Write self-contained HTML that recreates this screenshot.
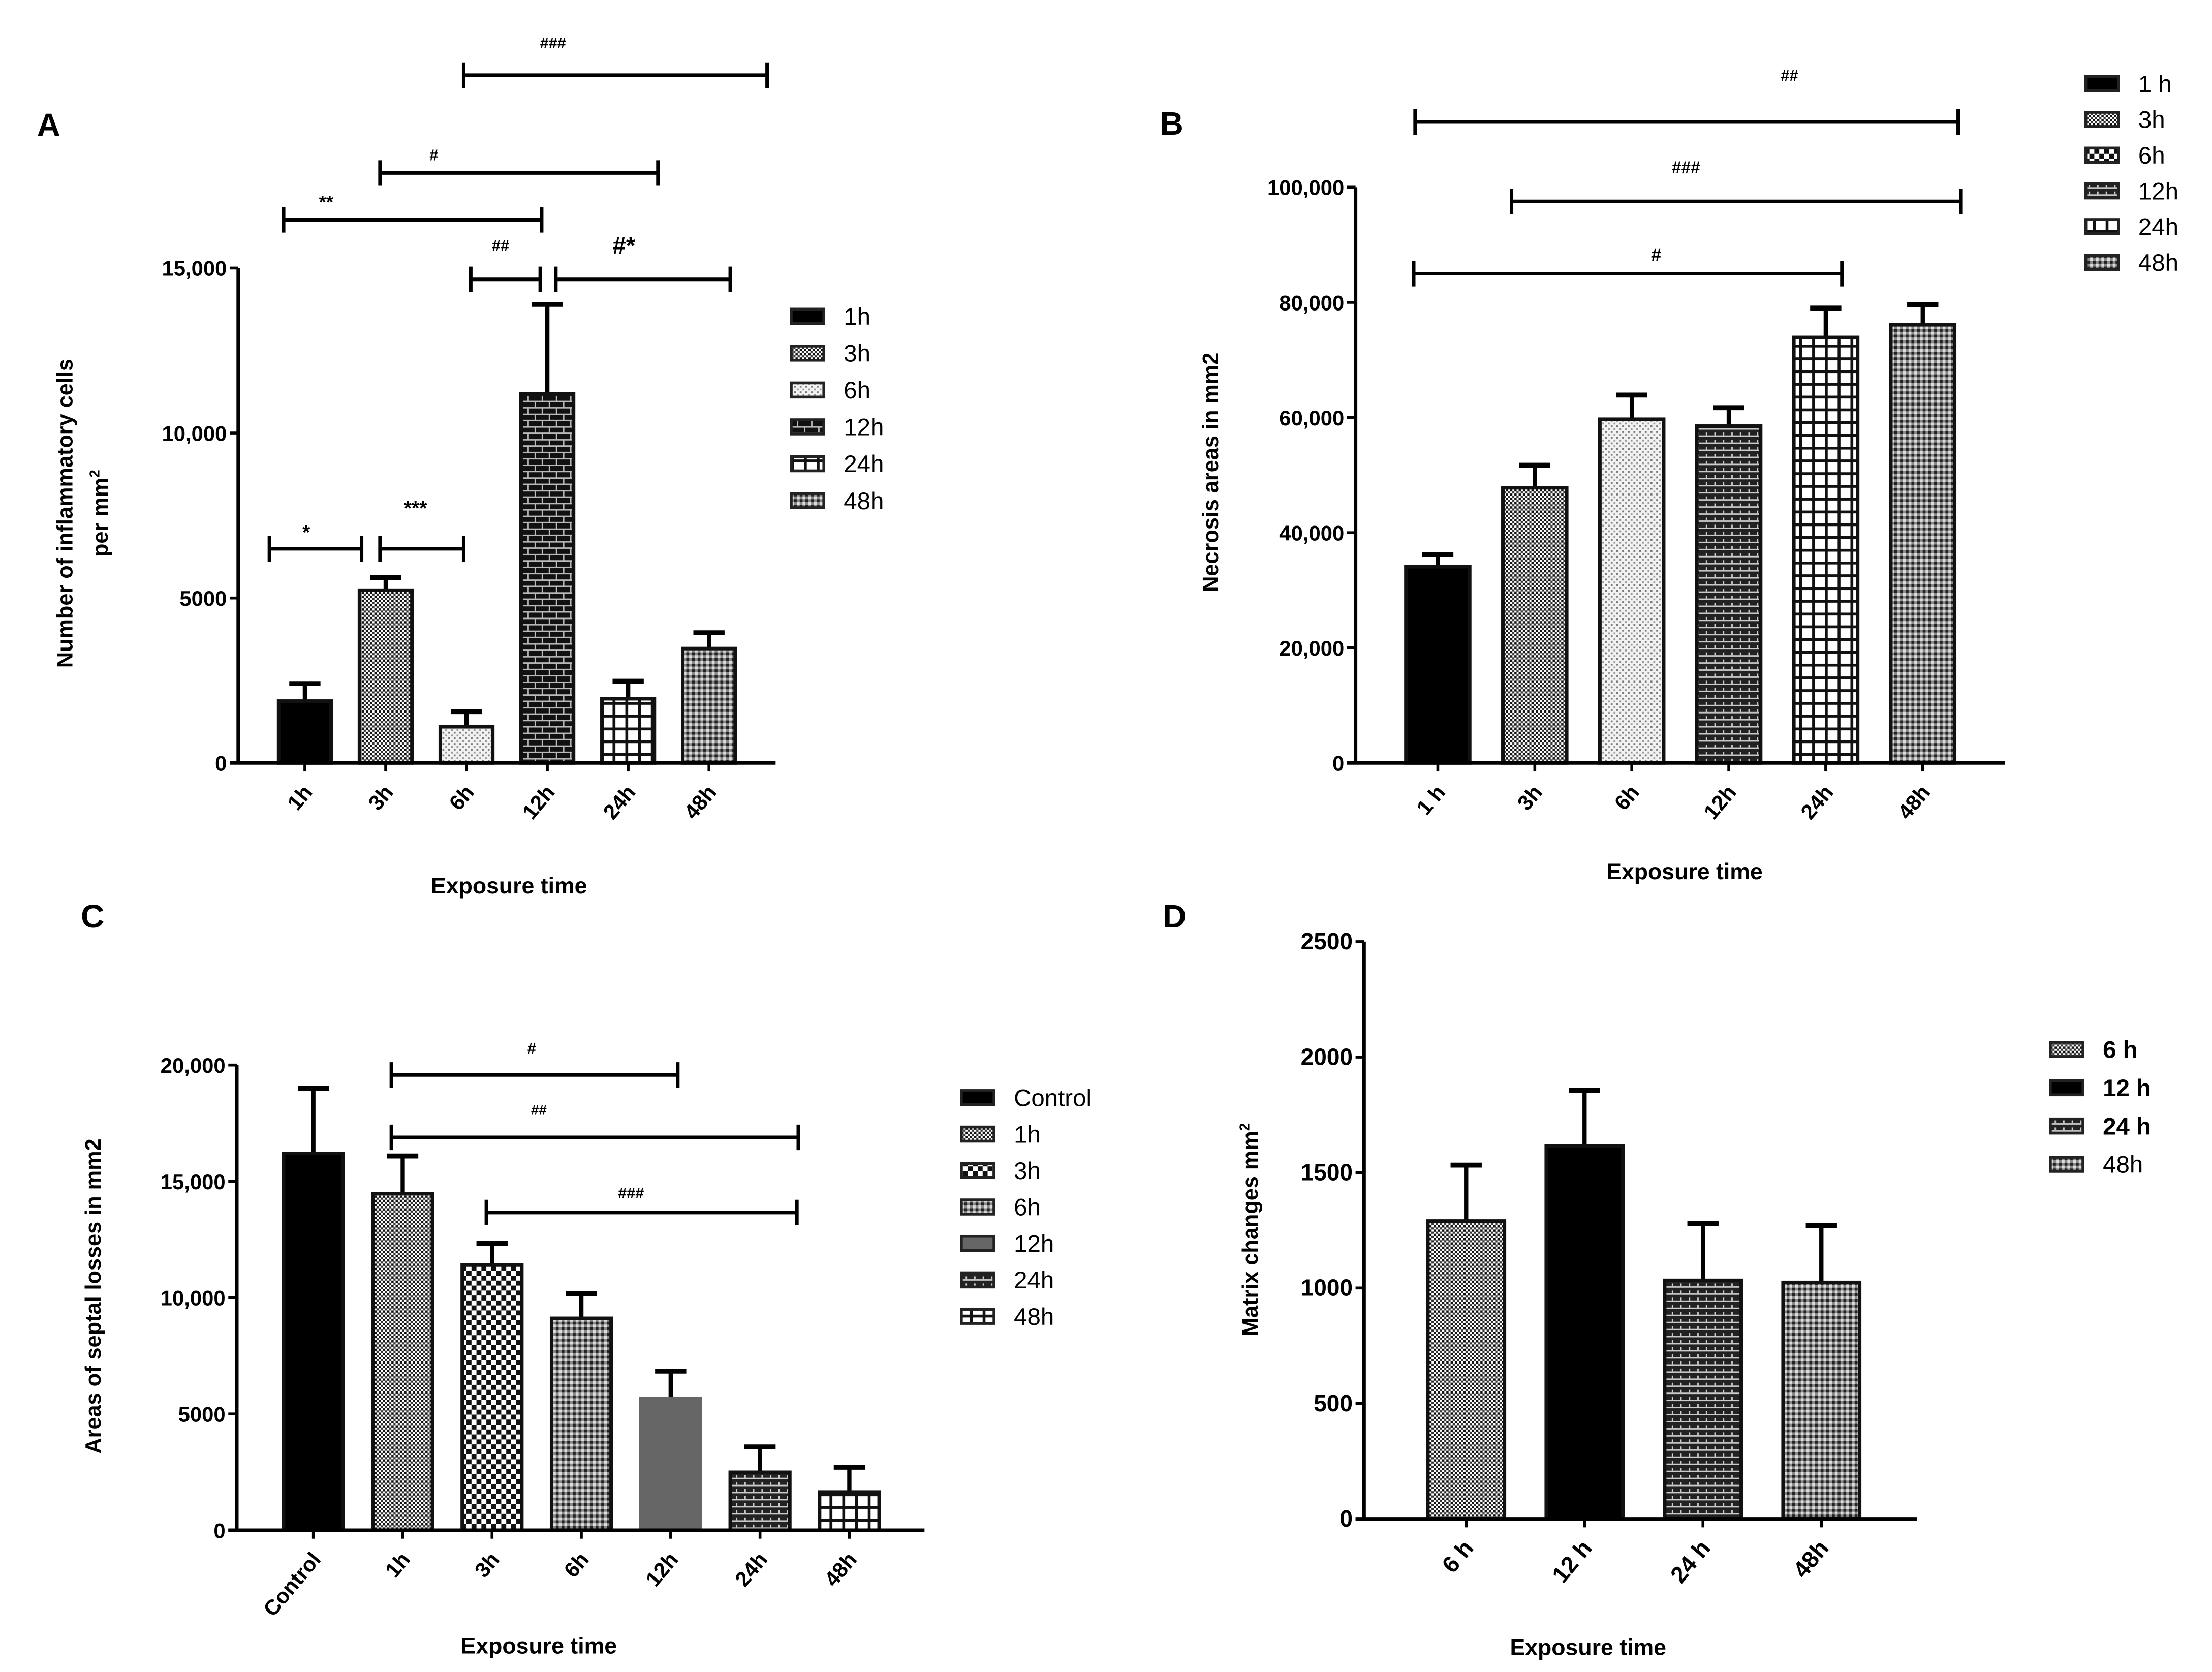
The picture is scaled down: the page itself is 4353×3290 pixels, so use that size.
<!DOCTYPE html>
<html><head><meta charset="utf-8"><style>
html,body{margin:0;padding:0;background:#fff}
svg{display:block}
text{font-family:"Liberation Sans",sans-serif}
</style></head><body>
<svg id="fig" xmlns="http://www.w3.org/2000/svg" width="4353" height="3290" viewBox="0 0 1560 1179" preserveAspectRatio="none">
<defs>
<pattern id="p-dense" width="3" height="3" patternUnits="userSpaceOnUse"><rect width="3" height="3" fill="#fff"/><rect width="1.6" height="1.6" fill="#111"/><rect x="1.5" y="1.5" width="1.5" height="1.5" fill="#333"/></pattern>
<pattern id="p-light" width="4" height="4" patternUnits="userSpaceOnUse"><rect width="4" height="4" fill="#f2f2f2"/><rect width="1.3" height="1.3" fill="#777"/><rect x="2" y="2" width="1.3" height="1.3" fill="#999"/></pattern>
<pattern id="p-checker" width="7" height="7" patternUnits="userSpaceOnUse"><rect width="7" height="7" fill="#fff"/><rect width="3.5" height="3.5" fill="#111"/><rect x="3.5" y="3.5" width="3.5" height="3.5" fill="#111"/></pattern>
<pattern id="p-brick" width="10" height="9" patternUnits="userSpaceOnUse"><rect width="10" height="9" fill="#111"/><rect y="3.6" width="10" height="1" fill="#bbb"/><rect y="8" width="10" height="1" fill="#bbb"/><rect x="2" y="0" width="1" height="4" fill="#bbb"/><rect x="7" y="4.5" width="1" height="4" fill="#bbb"/></pattern>
<pattern id="p-grid" width="9" height="9" patternUnits="userSpaceOnUse"><rect width="9" height="9" fill="#fff"/><rect width="9" height="2" fill="#111"/><rect width="2" height="9" fill="#111"/></pattern>
<pattern id="p-mid" width="4" height="4" patternUnits="userSpaceOnUse"><rect width="4" height="4" fill="#888"/><rect width="2" height="2" fill="#222"/><rect x="2" y="2" width="2" height="2" fill="#ddd"/></pattern>
<pattern id="p-dark" width="6" height="5" patternUnits="userSpaceOnUse"><rect width="6" height="5" fill="#222"/><rect y="2" width="6" height="1" fill="#ccc"/><rect x="3" y="0" width="1" height="2" fill="#ccc"/></pattern>
</defs>
<g id="root"></g>
</svg>
<script>
// ---------- Panel A data ----------
const catsA = ["1h","3h","6h","12h","24h","48h"];
const valsA = [1875, 5236, 1097, 11180, 1946, 3467];
const errsA = [2405, 5625, 1557, 13900, 2476, 3945];
const ticksA = [0, 5000, 10000, 15000];
const tickLabelsA = ["0","5000","10,000","15,000"];
// ---------- Panel B data ----------
const catsB = ["1 h","3h","6h","12h","24h","48h"];
const valsB = [34100, 47800, 59700, 58500, 73900, 76100];
const errsB = [36200, 51700, 63900, 61700, 79000, 79600];
const ticksB = [0, 20000, 40000, 60000, 80000, 100000];
const tickLabelsB = ["0","20,000","40,000","60,000","80,000","100,000"];
// ---------- Panel C data ----------
const catsC = ["Control","1h","3h","6h","12h","24h","48h"];
const valsC = [16200, 14470, 11400, 9110, 5670, 2490, 1640];
const errsC = [19000, 16090, 12330, 10180, 6840, 3580, 2710];
const ticksC = [0, 5000, 10000, 15000, 20000];
const tickLabelsC = ["0","5000","10,000","15,000","20,000"];
// ---------- Panel D data ----------
const catsD = ["6 h","12 h","24 h","48h"];
const valsD = [1290, 1615, 1033, 1024];
const errsD = [1532, 1856, 1279, 1270];
const ticksD = [0, 500, 1000, 1500, 2000, 2500];
const tickLabelsD = ["0","500","1000","1500","2000","2500"];

const NS = "http://www.w3.org/2000/svg";
const root = document.getElementById("root");
function mk(tag, attrs, parent, txt){
  const e = document.createElementNS(NS, tag);
  for (const k in attrs) e.setAttribute(k, attrs[k]);
  if (txt !== undefined) e.textContent = txt;
  (parent || root).appendChild(e);
  return e;
}

function panel(cfg){
  const g = mk("g", {});
  
  
  const yS = v => cfg.y0 - (v - 0) / cfg.ymax * (cfg.y0 - cfg.yTop);
  const xS = i => cfg.x0 + cfg.xFirst + i * cfg.step;
  const tfs = cfg.tickFont || 15;
  const L = mk("text", {x: cfg.letter[1], y: cfg.letter[2], "font-size": 23, "font-weight": "bold"}, g, cfg.letter[0]);
  
  
  cfg.vals.forEach((v, i) => {
    const cx = xS(i), w = cfg.bw;
    const e = cfg.errs[i];
    const el = mk("line", {x1: cx, x2: cx, y1: yS(v), y2: yS(e), stroke: "#000", "stroke-width": 3}, g);
    
    
    const ec = mk("line", {x1: cx - 11, x2: cx + 11, y1: yS(e), y2: yS(e), stroke: "#000", "stroke-width": 3.5}, g);
    
    
    const b = mk("rect", {x: cx - w/2, y: yS(v), width: w, height: cfg.y0 - yS(v), fill: cfg.fills[i], stroke: cfg.strokes ? cfg.strokes[i] : "#111", "stroke-width": 2.5}, g);
    
    
    const tk = mk("line", {x1: cx, x2: cx, y1: cfg.y0, y2: cfg.y0 + 6, stroke: "#000", "stroke-width": 2}, g);
    
    
    const tx = cx + 6, ty = cfg.y0 + 21;
    const t = mk("text", {x: tx, y: ty, "font-size": tfs, "font-weight": "bold", "text-anchor": "end", transform: `rotate(-50 ${tx} ${ty})`}, g, cfg.cats[i]);
    
    
  });
  const ya = mk("line", {x1: cfg.x0, x2: cfg.x0, y1: cfg.yTop, y2: cfg.y0 + 1, stroke: "#000", "stroke-width": 2.5}, g);
  
  
  const xa = mk("line", {x1: cfg.x0 - 6, x2: cfg.xEnd, y1: cfg.y0, y2: cfg.y0, stroke: "#000", "stroke-width": 2.5}, g);
  
  
  cfg.ticks.forEach((tv, i) => {
    const y = yS(tv);
    const tk = mk("line", {x1: cfg.x0 - 6, x2: cfg.x0, y1: y, y2: y, stroke: "#000", "stroke-width": 2}, g);
    
    
    const t = mk("text", {x: cfg.x0 - 8, y: y + 5.5, "font-size": tfs, "font-weight": "bold", "text-anchor": "end"}, g, cfg.tickLabels[i]);
    
    
  });
  cfg.ytitle.forEach((s, k) => {
    const x = cfg.ytx + k * 25, y = cfg.yty;
    const t = mk("text", {x: x, y: y, "font-size": 15.5, "font-weight": "bold", "text-anchor": "middle", transform: `rotate(-90 ${x} ${y})`}, g);
    t.innerHTML = s;
    
    
  });
  const xt = mk("text", {x: cfg.xtx, y: cfg.xty, "font-size": 16, "font-weight": "bold", "text-anchor": "middle"}, g, "Exposure time");
  
  
  cfg.legend.forEach((lab, i) => {
    const y = cfg.legY + i * cfg.legStep;
    const r = mk("rect", {x: cfg.legX, y: y - 5, width: 23, height: 10, fill: cfg.legFills[i], stroke: "#222", "stroke-width": 2}, g);
    
    
    const t = mk("text", {x: cfg.legX + 37, y: y + 6, "font-size": cfg.legFont || 17, "font-weight": (cfg.legBold && cfg.legBold[i]) ? "bold" : "normal"}, g, lab);
    
    
  });
  (cfg.brackets || []).forEach(b => {
    const [x1, x2, y, lab, lx, ly, fs] = b;
    const p = mk("path", {d: `M${x1} ${y-9}V${y+9}M${x1} ${y}H${x2}M${x2} ${y-9}V${y+9}`, stroke: "#000", "stroke-width": 2.5, fill: "none"}, g);
    
    
    const t = mk("text", {x: lx, y: ly, "font-size": fs || 11, "font-weight": "bold", "text-anchor": "middle"}, g, lab);
    
    
  });
}

panel({name: "panel-a", letter: ["A", 26, 96], cats: catsA, vals: valsA, errs: errsA, ticks: ticksA, tickLabels: tickLabelsA,
  x0: 168, xFirst: 47, step: 57, bw: 37, xEnd: 547, y0: 538, yTop: 189, ymax: 15000,
  fills: ["#000","url(#p-dense)","url(#p-light)","url(#p-brick)","url(#p-grid)","url(#p-mid)"],
  ytitle: ["Number of inflammatory cells", "per mm<tspan font-size='10' dy='-6'>2</tspan>"], ytx: 51, yty: 362, xtx: 359, xty: 630,
  legend: catsA, legFills: ["#000","url(#p-dense)","url(#p-light)","url(#p-brick)","url(#p-grid)","url(#p-mid)"], legX: 558, legY: 223, legStep: 26,
  brackets: [[190,255,387,"*",216,380,14],[268,327,387,"***",293,363,14],[332,381,197,"##",353,177,11],[392,515,197,"#*",440,179,17],
    [200,382,155,"**",230,147,13],[268,464,122,"#",306,113,11],[327,541,53,"###",390,34,11]]});

panel({name: "panel-b", letter: ["B", 818, 95], cats: catsB, vals: valsB, errs: errsB, ticks: ticksB, tickLabels: tickLabelsB,
  x0: 956, xFirst: 58, step: 68.4, bw: 45, xEnd: 1414, y0: 538, yTop: 132, ymax: 100000,
  fills: ["#000","url(#p-dense)","url(#p-light)","url(#p-dark)","url(#p-grid)","url(#p-mid)"],
  ytitle: ["Necrosis areas in mm2"], ytx: 859, yty: 333, xtx: 1188, xty: 620,
  legend: ["1 h","3h","6h","12h","24h","48h"], legFills: ["#000","url(#p-dense)","url(#p-checker)","url(#p-dark)","url(#p-grid)","url(#p-mid)"], legX: 1471, legY: 59, legStep: 25.2,
  brackets: [[998,1381,86,"##",1262,57,11],[1066,1383,142,"###",1189,122,12],[997,1299,193,"#",1168,184,13]]});

panel({name: "panel-c", letter: ["C", 57, 654], cats: catsC, vals: valsC, errs: errsC, ticks: ticksC, tickLabels: tickLabelsC,
  x0: 167, xFirst: 54, step: 63, bw: 42, xEnd: 652, y0: 1079, yTop: 751, ymax: 20000,
  fills: ["#000","url(#p-dense)","url(#p-checker)","url(#p-mid)","#666","url(#p-dark)","url(#p-grid)"],
  strokes: ["#111","#111","#111","#111","#666","#111","#111"],
  ytitle: ["Areas of septal losses in mm2"], ytx: 71, yty: 914, xtx: 380, xty: 1166,
  legend: catsC, legFills: ["#000","url(#p-dense)","url(#p-checker)","url(#p-mid)","#666","url(#p-dark)","url(#p-grid)"], legX: 678, legY: 774, legStep: 25.7,
  brackets: [[276,478,758,"#",375,743,11],[276,563,802,"##",380,786,10],[343,562,855,"###",445,845,11]]});

panel({name: "panel-d", letter: ["D", 820, 654], cats: catsD, vals: valsD, errs: errsD, ticks: ticksD, tickLabels: tickLabelsD,
  x0: 962, xFirst: 72, step: 83.5, bw: 54, xEnd: 1352, y0: 1071, yTop: 664, ymax: 2500, tickFont: 16.5,
  fills: ["url(#p-dense)","#000","url(#p-dark)","url(#p-mid)"],
  ytitle: ["Matrix changes mm<tspan font-size='10' dy='-6'>2</tspan>"], ytx: 887, yty: 867, xtx: 1120, xty: 1167,
  legend: ["6 h","12 h","24 h","48h"], legFills: ["url(#p-dense)","#000","url(#p-dark)","url(#p-mid)"], legX: 1446, legY: 740, legStep: 27, legBold: [true,true,true,false]});
</script>
</body></html>
